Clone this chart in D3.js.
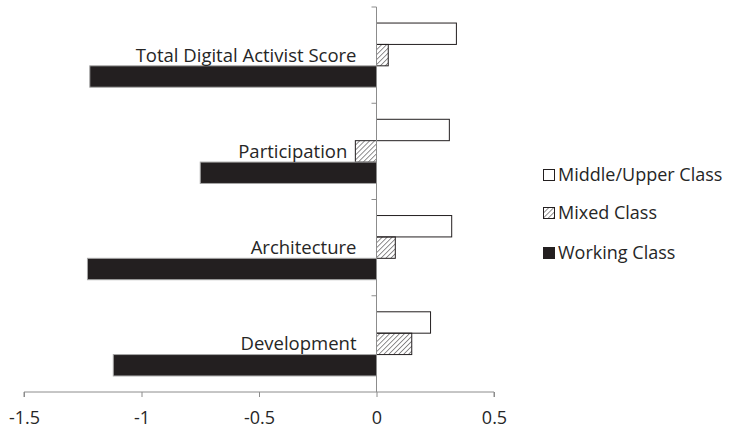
<!DOCTYPE html>
<html lang="en">
  <head>
    <meta charset="utf-8" />
    <title>Digital Activist Scores by Class</title>
    <script src="https://cdnjs.cloudflare.com/ajax/libs/d3/7.0.0/d3.min.js"></script>
    <style>
      body {
        margin: 0;
        background: #fff;
        font-family: "Open Sans", sans-serif;
      }
      text {
        fill: #262626;
      }
    </style>
  </head>
  <body>
    <div id="chart"></div>
    <script>
      // categories, top to bottom
      const categories = ["Total Digital Activist Score", "Participation", "Architecture", "Development"];
      const seriesNames = ["Middle/Upper Class", "Mixed Class", "Working Class"];
      const middleUpper = [0.34, 0.31, 0.32, 0.23];
      const mixed = [0.05, -0.09, 0.08, 0.15];
      const working = [-1.22, -0.75, -1.23, -1.12];
      const xTicks = [-1.5, -1, -0.5, 0, 0.5];

      const width = 732, height = 434;
      const margin = { top: 7, left: 24, right: 238, bottom: 42 };

      const svg = d3.select("#chart").append("svg")
        .attr("width", width)
        .attr("height", height);

      const defs = svg.append("defs");
      defs.append("pattern")
        .attr("id", "hatch")
        .attr("patternUnits", "userSpaceOnUse")
        .attr("width", 3.5)
        .attr("height", 3.5)
        .attr("patternTransform", "rotate(45)")
        .append("line")
        .attr("x1", 0).attr("y1", 0)
        .attr("x2", 0).attr("y2", 3.5)
        .attr("stroke", "#231f20")
        .attr("stroke-width", 1);

      const x = d3.scaleLinear()
        .domain([-1.5, 0.5])
        .range([margin.left, width - margin.right]);

      const y = d3.scaleBand()
        .domain(categories)
        .range([margin.top, height - margin.bottom]);

      // Excel-like gap width 150%
      const barH = y.bandwidth() / 4.5;
      const gap = (y.bandwidth() - barH * 3) / 2;

      const series = [
        { name: seriesNames[0], values: middleUpper, fill: "#fff", stroke: "#231f20" },
        { name: seriesNames[1], values: mixed, fill: "url(#hatch)", stroke: "#231f20" },
        { name: seriesNames[2], values: working, fill: "#231f20", stroke: "#a6a6a6" }
      ];

      series.forEach((s, i) => {
        svg.append("g")
          .selectAll("rect")
          .data(s.values)
          .enter()
          .append("rect")
          .attr("x", d => x(Math.min(0, d)))
          .attr("width", d => Math.abs(x(d) - x(0)))
          .attr("y", (d, j) => y(categories[j]) + gap + i * barH)
          .attr("height", barH)
          .attr("fill", s.fill)
          .attr("stroke", s.stroke)
          .attr("stroke-width", 1);
      });

      // x axis
      const xAxis = svg.append("g")
        .attr("transform", `translate(0,${height - margin.bottom})`)
        .call(d3.axisBottom(x).tickValues(xTicks).tickSize(5).tickFormat(d => String(d)));
      xAxis.selectAll("line, path").attr("stroke", "#8c8c8c");
      xAxis.select(".domain").attr("d", `M${x(-1.5)},5V0H${x(0.5)}V5`);
      xAxis.selectAll("text")
        .attr("y", 26)
        .attr("dy", "0.35em")
        .attr("fill", "#262626")
        .style("font-size", "18px")
        .style("font-family", "'Open Sans', sans-serif");

      // vertical axis at zero with category divider ticks
      const yAxis = svg.append("g");
      yAxis.append("line")
        .attr("x1", x(0)).attr("x2", x(0))
        .attr("y1", margin.top).attr("y2", height - margin.bottom)
        .attr("stroke", "#8c8c8c");
      yAxis.selectAll(".tk")
        .data(categories)
        .enter()
        .append("line")
        .attr("x1", x(0) - 5).attr("x2", x(0))
        .attr("y1", d => y(d)).attr("y2", d => y(d))
        .attr("stroke", "#8c8c8c");

      // category labels sit left of the axis, clear of any small negative bar beside them
      svg.append("g")
        .selectAll("text")
        .data(categories)
        .enter()
        .append("text")
        .attr("x", (d, j) => Math.min(x(0) - 20, x(Math.min(0, mixed[j], middleUpper[j])) - 8))
        .attr("y", d => y(d) + y.bandwidth() / 2)
        .attr("dy", "0.35em")
        .attr("text-anchor", "end")
        .style("font-size", "18.5px")
        .text(d => d);

      // legend
      const legend = svg.append("g").attr("transform", "translate(543,0)");
      const legendY = [175, 213, 253];
      series.forEach((s, i) => {
        legend.append("rect")
          .attr("x", 0.5).attr("y", legendY[i] - 5.5)
          .attr("width", 11).attr("height", 11)
          .attr("fill", s.fill)
          .attr("stroke", "#231f20");
        legend.append("text")
          .attr("x", 15)
          .attr("y", legendY[i])
          .attr("dy", "0.35em")
          .style("font-size", "18px")
          .text(s.name);
      });
    </script>
  </body>
</html>
